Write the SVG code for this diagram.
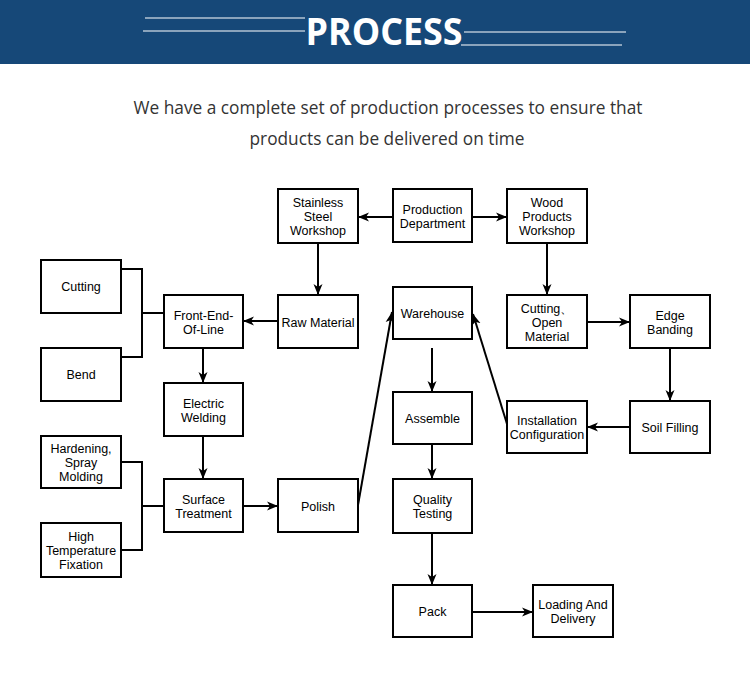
<svg xmlns="http://www.w3.org/2000/svg" width="750" height="683" viewBox="0 0 750 683">
<defs>
<marker id="ah" markerUnits="userSpaceOnUse" markerWidth="12" markerHeight="10" refX="11" refY="5" orient="auto">
<path d="M0,0.5 L11,5 L0,9.5 L3,5 Z" fill="#000"/>
</marker>
</defs>
<style>
.box{fill:#fff;stroke:#000;stroke-width:2}
.t{font-family:"Liberation Sans",Arial,sans-serif;font-size:12.5px;fill:#000;text-anchor:middle}
.c{fill:none;stroke:#000;stroke-width:2}
.a{fill:none;stroke:#000;stroke-width:2;marker-end:url(#ah)}
.hl{stroke:#fff;stroke-width:1.2}
</style>
<rect x="0" y="0" width="750" height="64" fill="#164878"/>
<g id="header">
<line class="hl" x1="145" y1="18" x2="305" y2="18"/>
<line class="hl" x1="143" y1="31" x2="305" y2="31"/>
<line class="hl" x1="464" y1="32" x2="626" y2="32"/>
<line class="hl" x1="461" y1="45" x2="622" y2="45"/>
<text x="384" y="45" font-family="'Open Sans','Liberation Sans',sans-serif" font-weight="bold" font-size="38" fill="#fff" text-anchor="middle" textLength="157" lengthAdjust="spacingAndGlyphs">PROCESS</text>
</g>
<g id="subtitle" font-family="'Open Sans','Liberation Sans',sans-serif" font-size="19" fill="#333" text-anchor="middle">
<text x="388" y="114" textLength="509" lengthAdjust="spacingAndGlyphs">We have a complete set of production processes to ensure that</text>
<text x="387" y="145" textLength="275" lengthAdjust="spacingAndGlyphs">products can be delivered on time</text>
</g>
<g id="connectors">
<line class="a" x1="393" y1="217" x2="358" y2="217"/>
<line class="a" x1="472" y1="217" x2="507" y2="217"/>
<line class="a" x1="318" y1="243" x2="318" y2="295"/>
<line class="a" x1="547" y1="243" x2="547" y2="295"/>
<line class="a" x1="278" y1="321" x2="243" y2="321"/>
<polyline class="c" points="121,269 142,269 142,357 121,357"/>
<line class="c" x1="142" y1="313" x2="164" y2="313"/>
<line class="a" x1="203" y1="348" x2="203" y2="383"/>
<line class="a" x1="203" y1="436" x2="203" y2="479"/>
<polyline class="c" points="121,462 142,462 142,550 121,550"/>
<line class="c" x1="142" y1="506" x2="164" y2="506"/>
<line class="a" x1="243" y1="506" x2="278" y2="506"/>
<line class="a" x1="358" y1="505" x2="392" y2="312"/>
<line class="a" x1="432" y1="348" x2="432" y2="392"/>
<line class="a" x1="432" y1="444" x2="432" y2="479"/>
<line class="a" x1="432" y1="533" x2="432" y2="585"/>
<line class="a" x1="472" y1="612" x2="533" y2="612"/>
<line class="a" x1="587" y1="322" x2="630" y2="322"/>
<line class="a" x1="670" y1="348" x2="670" y2="401"/>
<line class="a" x1="630" y1="427" x2="587" y2="427"/>
<line class="a" x1="507" y1="424" x2="473" y2="314"/>
</g>
<g id="n-production"><rect class="box" x="393" y="189" width="79" height="53"/><text class="t" x="432.5" y="214">Production</text><text class="t" x="432.5" y="228">Department</text></g>
<g id="n-stainless"><rect class="box" x="278" y="189" width="80" height="54"/><text class="t" x="318" y="207">Stainless</text><text class="t" x="318" y="221">Steel</text><text class="t" x="318" y="235">Workshop</text></g>
<g id="n-wood"><rect class="box" x="507" y="189" width="80" height="54"/><text class="t" x="547" y="207">Wood</text><text class="t" x="547" y="221">Products</text><text class="t" x="547" y="235">Workshop</text></g>
<g id="n-cutting"><rect class="box" x="41" y="260" width="80" height="53"/><text class="t" x="81" y="291">Cutting</text></g>
<g id="n-frontend"><rect class="box" x="164" y="295" width="79" height="53"/><text class="t" x="203.5" y="320">Front-End-</text><text class="t" x="203.5" y="334">Of-Line</text></g>
<g id="n-raw"><rect class="box" x="278" y="295" width="80" height="53"/><text class="t" x="318" y="327">Raw Material</text></g>
<g id="n-warehouse"><rect class="box" x="393" y="287" width="79" height="52"/><text class="t" x="432.5" y="318">Warehouse</text></g>
<g id="n-cutopen"><rect class="box" x="507" y="295" width="80" height="53"/><text class="t" x="547" y="313">Cutting、</text><text class="t" x="547" y="327">Open</text><text class="t" x="547" y="341">Material</text></g>
<g id="n-edge"><rect class="box" x="630" y="295" width="80" height="53"/><text class="t" x="670" y="320">Edge</text><text class="t" x="670" y="334">Banding</text></g>
<g id="n-bend"><rect class="box" x="41" y="348" width="80" height="53"/><text class="t" x="81" y="379">Bend</text></g>
<g id="n-welding"><rect class="box" x="164" y="383" width="79" height="53"/><text class="t" x="203.5" y="408">Electric</text><text class="t" x="203.5" y="422">Welding</text></g>
<g id="n-assemble"><rect class="box" x="393" y="392" width="79" height="52"/><text class="t" x="432.5" y="423">Assemble</text></g>
<g id="n-install"><rect class="box" x="507" y="401" width="80" height="52"/><text class="t" x="547" y="425">Installation</text><text class="t" x="547" y="439">Configuration</text></g>
<g id="n-soil"><rect class="box" x="630" y="401" width="80" height="52"/><text class="t" x="670" y="432">Soil Filling</text></g>
<g id="n-hardening"><rect class="box" x="41" y="436" width="80" height="52"/><text class="t" x="81" y="453">Hardening,</text><text class="t" x="81" y="467">Spray</text><text class="t" x="81" y="481">Molding</text></g>
<g id="n-surface"><rect class="box" x="164" y="479" width="79" height="53"/><text class="t" x="203.5" y="504">Surface</text><text class="t" x="203.5" y="518">Treatment</text></g>
<g id="n-polish"><rect class="box" x="278" y="479" width="80" height="53"/><text class="t" x="318" y="511">Polish</text></g>
<g id="n-quality"><rect class="box" x="393" y="479" width="79" height="54"/><text class="t" x="432.5" y="504">Quality</text><text class="t" x="432.5" y="518">Testing</text></g>
<g id="n-hightemp"><rect class="box" x="41" y="523" width="80" height="54"/><text class="t" x="81" y="541">High</text><text class="t" x="81" y="555">Temperature</text><text class="t" x="81" y="569">Fixation</text></g>
<g id="n-pack"><rect class="box" x="393" y="585" width="79" height="52"/><text class="t" x="432.5" y="616">Pack</text></g>
<g id="n-loading"><rect class="box" x="533" y="585" width="80" height="52"/><text class="t" x="573" y="609">Loading And</text><text class="t" x="573" y="623">Delivery</text></g>
</svg>
